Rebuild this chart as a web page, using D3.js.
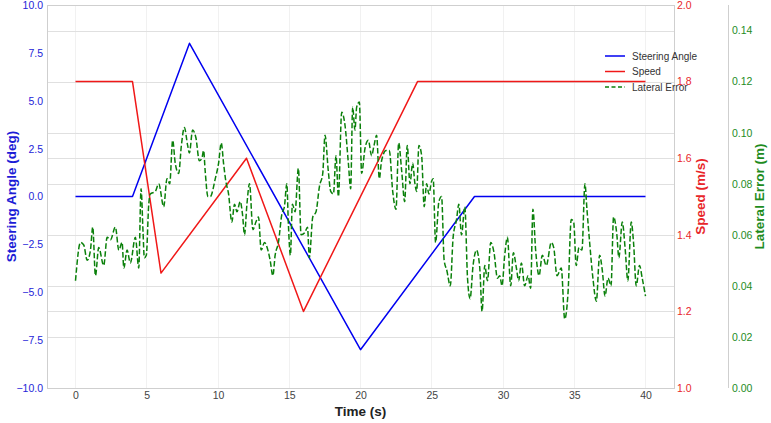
<!DOCTYPE html>
<meta charset="utf-8">
<style>

body {
  margin: 0;
}

text {
  font-family: "Liberation Sans", Arial, sans-serif;
}

.tick text {
  font-size: 10.5px;
}

.axis path,
.axis line {
  display: none;
}

.grid line {
  stroke: #e0e0e0;
  shape-rendering: crispEdges;
}

.grid-x line {
  stroke: #f1f1f1;
  shape-rendering: crispEdges;
}

.line {
  fill: none;
  stroke-width: 1.5px;
  stroke-linejoin: round;
}

.axis-title {
  font-weight: bold;
  font-size: 13.5px;
  text-anchor: middle;
}

.legend text {
  font-size: 10px;
  fill: #333;
}

</style>
<svg width="771" height="423"></svg>
<script src="https://d3js.org/d3.v7.min.js"></script>
<script>

// steering angle command (deg)
var steerTime  = [0, 4, 8, 20, 28, 40];
var steerValue = [0, 0, 8, -8, 0, 0];

// speed command (m/s)
var speedTime  = [0, 4, 6, 12, 16, 24, 40];
var speedValue = [1.8, 1.8, 1.3, 1.6, 1.2, 1.8, 1.8];

// lateral error (m)
var errTime = [0.00, 0.35, 0.58, 0.82, 1.05, 1.21, 1.40, 1.63, 1.98, 2.22, 2.45, 2.80, 3.04, 3.27, 3.39, 3.62, 3.85,
  4.20, 4.44, 4.60, 4.74, 4.83, 4.97, 5.14, 5.25, 5.60, 5.84, 6.19, 6.42, 6.61, 6.82, 7.00, 7.24, 7.43, 7.64, 7.87,
  7.99, 8.22, 8.45, 8.69, 8.87, 8.99, 9.10, 9.29, 9.46, 9.81, 10.04, 10.23, 10.39, 10.55, 10.74, 10.97, 11.16, 11.33,
  11.56, 11.72, 11.86, 12.03, 12.21, 12.45, 12.66, 12.84, 13.03, 13.26, 13.50, 13.66, 13.85, 14.01, 14.24, 14.48,
  14.66, 14.83, 14.94, 15.08, 15.22, 15.41, 15.64, 15.83, 16.11, 16.28, 16.41, 16.65, 16.88, 17.12, 17.35, 17.51,
  17.74, 17.91, 18.10, 18.28, 18.45, 18.68, 18.91, 19.15, 19.31, 19.45, 19.61, 19.73, 19.92, 20.08, 20.32, 20.55,
  20.78, 20.95, 21.13, 21.32, 21.48, 21.79, 22.02, 22.26, 22.49, 22.68, 22.89, 23.10, 23.28, 23.47, 23.66, 23.82,
  23.94, 24.10, 24.29, 24.47, 24.64, 24.80, 24.99, 25.10, 25.27, 25.50, 25.69, 25.87, 26.06, 26.30, 26.50, 26.74,
  26.90, 27.09, 27.32, 27.51, 27.69, 27.90, 28.14, 28.37, 28.53, 28.72, 28.91, 29.14, 29.37, 29.61, 29.77, 29.93,
  30.12, 30.31, 30.54, 30.73, 30.94, 31.10, 31.29, 31.52, 31.76, 31.94, 32.10, 32.29, 32.53, 32.76, 33.04, 33.39,
  33.56, 33.79, 34.09, 34.33, 34.56, 34.79, 34.96, 35.14, 35.33, 35.54, 35.75, 35.89, 36.08, 36.31, 36.55, 36.78,
  36.97, 37.16, 37.37, 37.58, 37.76, 37.99, 38.13, 38.37, 38.58, 38.76, 39.00, 39.16, 39.35, 39.58, 39.77, 40.00];
var errValue = [.042, .057, .056, .050, .054, .063, .044, .055, .048, .059, .058, .063, .054, .057, .047, .054, .049,
  .059, .047, .078, .061, .051, .052, .072, .076, .077, .080, .071, .082, .080, .097, .088, .084, .095, .102, .095,
  .092, .101, .098, .089, .090, .093, .085, .075, .075, .082, .088, .096, .088, .081, .076, .065, .072, .069,
  .073, .068, .060, .072, .080, .062, .065, .067, .054, .057, .054, .050, .044, .052, .057, .068,
  .071, .080, .064, .052, .072, .069, .086, .060, .061, .063, .051, .067, .069, .079, .084, .099,
  .085, .077, .076, .091, .075, .108, .103, .088, .078, .110, .101, .110, .112, .084, .094, .097,
  .091, .095, .099, .082, .089, .093, .093, .077, .070, .096, .085, .073, .095, .080, .088, .080,
  .077, .095, .091, .071, .080, .076, .081, .082, .057, .073, .075, .050, .046, .040, .059, .066,
  .072, .060, .071, .043, .035, .048, .054, .047, .030, .048, .042, .057, .053, .043, .044, .040,
  .052, .059, .040, .053, .047, .042, .049, .040, .044, .039, .070, .054, .044, .052, .048, .057,
  .055, .044, .047, .027, .037, .066, .065, .048, .055, .054, .080, .070, .057, .043, .034, .052,
  .046, .036, .043, .040, .067, .060, .051, .065, .054, .042, .065, .057, .040, .048, .043, .036];

var xTicks     = [0, 5, 10, 15, 20, 25, 30, 35, 40];
var steerTicks = [-10, -7.5, -5, -2.5, 0, 2.5, 5, 7.5, 10];
var speedTicks = [1.0, 1.2, 1.4, 1.6, 1.8, 2.0];
var errTicks   = [0, 0.02, 0.04, 0.06, 0.08, 0.10, 0.12, 0.14];

var svg = d3.select("svg");

var margin = {top: 5, right: 97, bottom: 35, left: 47},
    width = +svg.attr("width") - margin.left - margin.right,
    height = +svg.attr("height") - margin.top - margin.bottom,
    errAxisX = width + 54;

var g = svg.append("g")
    .attr("transform", "translate(" + margin.left + "," + margin.top + ")");

var x = d3.scaleLinear().domain([-2, 42]).range([0, width]);
var yL = d3.scaleLinear().domain([-10, 10]).range([height, 0]);
var yS = d3.scaleLinear().domain([1.0, 2.0]).range([height, 0]);
var yE = d3.scaleLinear().domain([0, 0.15]).range([height, 0]);

// grid
g.append("g")
    .attr("class", "grid-x")
  .selectAll("line")
    .data(xTicks)
  .enter().append("line")
    .attr("x1", function(d) { return x(d); })
    .attr("x2", function(d) { return x(d); })
    .attr("y1", 0)
    .attr("y2", height);

var hGrid = speedTicks.map(function(d) { return yS(d); })
    .concat(errTicks.map(function(d) { return yE(d); }));

g.append("g")
    .attr("class", "grid")
  .selectAll("line")
    .data(hGrid)
  .enter().append("line")
    .attr("x1", 0)
    .attr("x2", width)
    .attr("y1", function(d) { return Math.round(d); })
    .attr("y2", function(d) { return Math.round(d); });

// frame
g.append("rect")
    .attr("width", width)
    .attr("height", height)
    .attr("fill", "none")
    .attr("stroke", "#cfcfcf")
    .attr("shape-rendering", "crispEdges");

g.append("line")
    .attr("x1", errAxisX).attr("x2", errAxisX)
    .attr("y1", 0).attr("y2", height)
    .attr("stroke", "#cfcfcf")
    .attr("shape-rendering", "crispEdges");

// axes
var xAxis = g.append("g")
    .attr("class", "axis")
    .attr("transform", "translate(0," + height + ")")
    .call(d3.axisBottom(x).tickValues(xTicks).tickSize(0).tickPadding(4));
xAxis.selectAll("text").attr("fill", "#444");

var lAxis = g.append("g")
    .attr("class", "axis")
    .call(d3.axisLeft(yL).tickValues(steerTicks).tickFormat(d3.format(".1f")).tickSize(0).tickPadding(4));
lAxis.selectAll("text").attr("fill", "#2424d8");

var sAxis = g.append("g")
    .attr("class", "axis")
    .attr("transform", "translate(" + width + ",0)")
    .call(d3.axisRight(yS).tickValues(speedTicks).tickFormat(d3.format(".1f")).tickSize(0).tickPadding(3));
sAxis.selectAll("text").attr("fill", "#e8262a");

var eAxis = g.append("g")
    .attr("class", "axis")
    .attr("transform", "translate(" + errAxisX + ",0)")
    .call(d3.axisRight(yE).tickValues(errTicks).tickFormat(d3.format(".2f")).tickSize(0).tickPadding(4));
eAxis.selectAll("text").attr("fill", "#1e8c1e");

// axis titles
g.append("text")
    .attr("class", "axis-title")
    .attr("x", width / 2)
    .attr("y", height + 28)
    .attr("fill", "#222")
    .text("Time (s)");

g.append("text")
    .attr("class", "axis-title")
    .attr("transform", "translate(" + (-31) + "," + (height / 2) + ") rotate(-90)")
    .attr("fill", "#1c1cd6")
    .text("Steering Angle (deg)");

g.append("text")
    .attr("class", "axis-title")
    .attr("transform", "translate(" + (width + 31) + "," + (height / 2) + ") rotate(-90)")
    .attr("fill", "#e8262a")
    .text("Speed (m/s)");

g.append("text")
    .attr("class", "axis-title")
    .attr("transform", "translate(" + (errAxisX + 36) + "," + (height / 2) + ") rotate(-90)")
    .attr("fill", "#1e8c1e")
    .text("Lateral Error (m)");

// lines
var steerLine = d3.line()
    .x(function(d, i) { return x(steerTime[i]); })
    .y(function(d) { return yL(d); });

var speedLine = d3.line()
    .x(function(d, i) { return x(speedTime[i]); })
    .y(function(d) { return yS(d); });

var errLine = d3.line()
    .curve(d3.curveMonotoneX)
    .x(function(d, i) { return x(errTime[i]); })
    .y(function(d) { return yE(d); });

g.append("path")
    .attr("class", "line")
    .attr("stroke", "#0000f0")
    .attr("d", steerLine(steerValue));

g.append("path")
    .attr("class", "line")
    .attr("stroke", "#f01818")
    .attr("d", speedLine(speedValue));

g.append("path")
    .attr("class", "line")
    .attr("stroke", "#0a800a")
    .attr("stroke-dasharray", "5.5,2.4")
    .attr("d", errLine(errValue));

// legend
var legendItems = [
  {name: "Steering Angle", color: "#0000f0", dash: null},
  {name: "Speed", color: "#f01818", dash: null},
  {name: "Lateral Error", color: "#0a800a", dash: "4,2.5"}
];

var legend = g.selectAll(".legend")
    .data(legendItems)
  .enter().append("g")
    .attr("class", "legend")
    .attr("transform", function(d, i) { return "translate(" + (width - 69) + "," + (51 + i * 15.5) + ")"; });

legend.append("line")
    .attr("x1", 0).attr("x2", 20)
    .attr("stroke", function(d) { return d.color; })
    .attr("stroke-width", 1.5)
    .attr("stroke-dasharray", function(d) { return d.dash; });

legend.append("text")
    .attr("x", 27)
    .attr("dy", ".35em")
    .text(function(d) { return d.name; });

</script>
